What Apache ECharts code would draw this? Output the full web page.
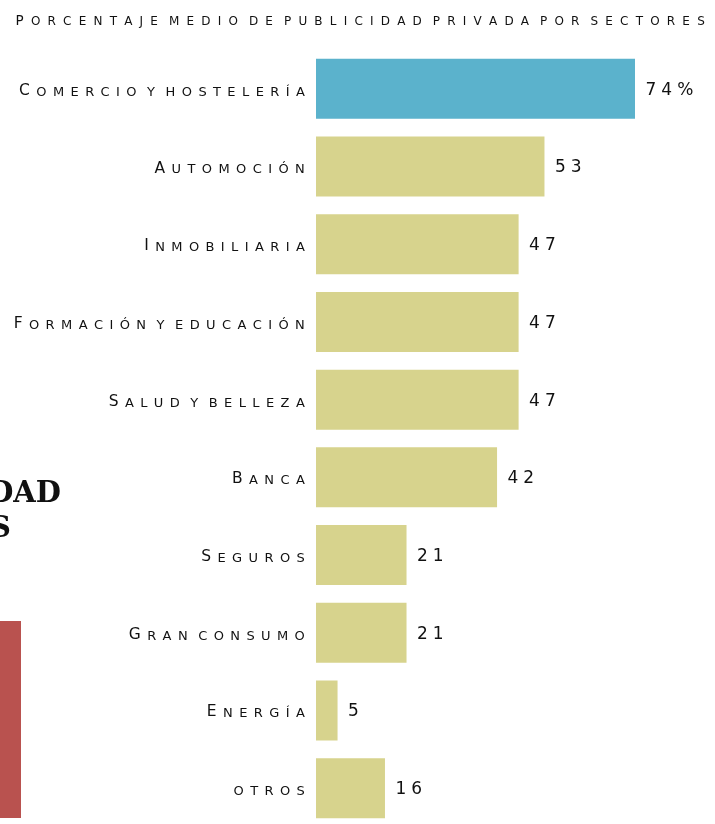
<!DOCTYPE html>
<html>
<head>
<meta charset="utf-8">
<script src="https://cdn.jsdelivr.net/npm/echarts@6/dist/echarts.min.js"></script>
<style>
  html, body { margin: 0; padding: 0; background: #fff; }
  #chart { width: 715px; height: 824px; }
</style>
</head>
<body>
<div id="chart"></div>
<script>
var categories = ['Comercio y hostelería', 'Automoción', 'Inmobiliaria', 'Formación y educación',
  'Salud y belleza', 'Banca', 'Seguros', 'Gran consumo', 'Energía', 'otros'];
var values = [74, 53, 47, 47, 47, 42, 21, 21, 5, 16];
var titleText = 'Porcentaje medio de publicidad privada por sectores';

var FONT = 'DejaVu Sans';
var INK = '#111';

// fake small caps + tracking: one rich token per character
var track = function(str, big, small, space) {
  return str.split('').map(function(ch) {
    if (ch === ' ') return '{' + space + '| }';
    var up = ch.toUpperCase();
    var isCap = ch === up && ch !== ch.toLowerCase();
    return '{' + (isCap ? big : small) + '|' + up + '}';
  }).join('');
};

var tok = function(size, pad) {
  return {
    fontFamily: FONT, fontSize: size, fontWeight: 'normal', color: INK,
    padding: [0, pad], verticalAlign: 'bottom', lineHeight: 20
  };
};

var chartDom = document.getElementById('chart');
var myChart = echarts.init(chartDom);
var option;

option = {
  backgroundColor: '#fff',
  animation: false,
  title: {
    text: track(titleText, 'b', 's', 'sp'),
    left: 7,
    top: 3,
    textStyle: {
      fontWeight: 'normal',
      rich: { b: tok(13.5, 3.6), s: tok(12, 3.6), sp: tok(12, 0) }
    }
  },
  graphic: [
    { type: 'text', right: 654, top: 480,
      style: { text: 'DAD', font: 'bold 29px "DejaVu Serif"', fill: '#111' } },
    { type: 'text', right: 704, top: 515,
      style: { text: 'S', font: 'bold 29px "DejaVu Serif"', fill: '#111' } },
    { type: 'rect', shape: { x: 0, y: 621, width: 21, height: 197 },
      style: { fill: '#B9524F' } }
  ],
  grid: { left: 316, right: 80, top: 50, height: 777, outerBoundsMode: 'none', containLabel: false },
  xAxis: {
    type: 'value', min: 0, max: 74,
    show: false
  },
  yAxis: {
    type: 'category',
    data: categories,
    inverse: true,
    axisLine: { show: false },
    axisTick: { show: false },
    axisLabel: {
      margin: 8,
      formatter: function(v) { return track(v, 'b', 's', 'sp'); },
      rich: { b: tok(15.5, 3.2), s: tok(13, 3.2), sp: tok(13, 0) }
    }
  },
  series: [{
    type: 'bar',
    data: values.map(function(v, i) {
      return { value: v, itemStyle: { color: i === 0 ? '#5BB2CC' : '#D7D38D' } };
    }),
    barWidth: 60,
    label: {
      show: true,
      position: 'right',
      distance: 8,
      formatter: function(p) {
        var s = String(p.value) + (p.dataIndex === 0 ? '%' : '');
        return s.split('').map(function(c) { return '{n|' + c + '}'; }).join('');
      },
      rich: { n: tok(17, 2.5) }
    }
  }]
};

option && myChart.setOption(option);
</script>
</body>
</html>
